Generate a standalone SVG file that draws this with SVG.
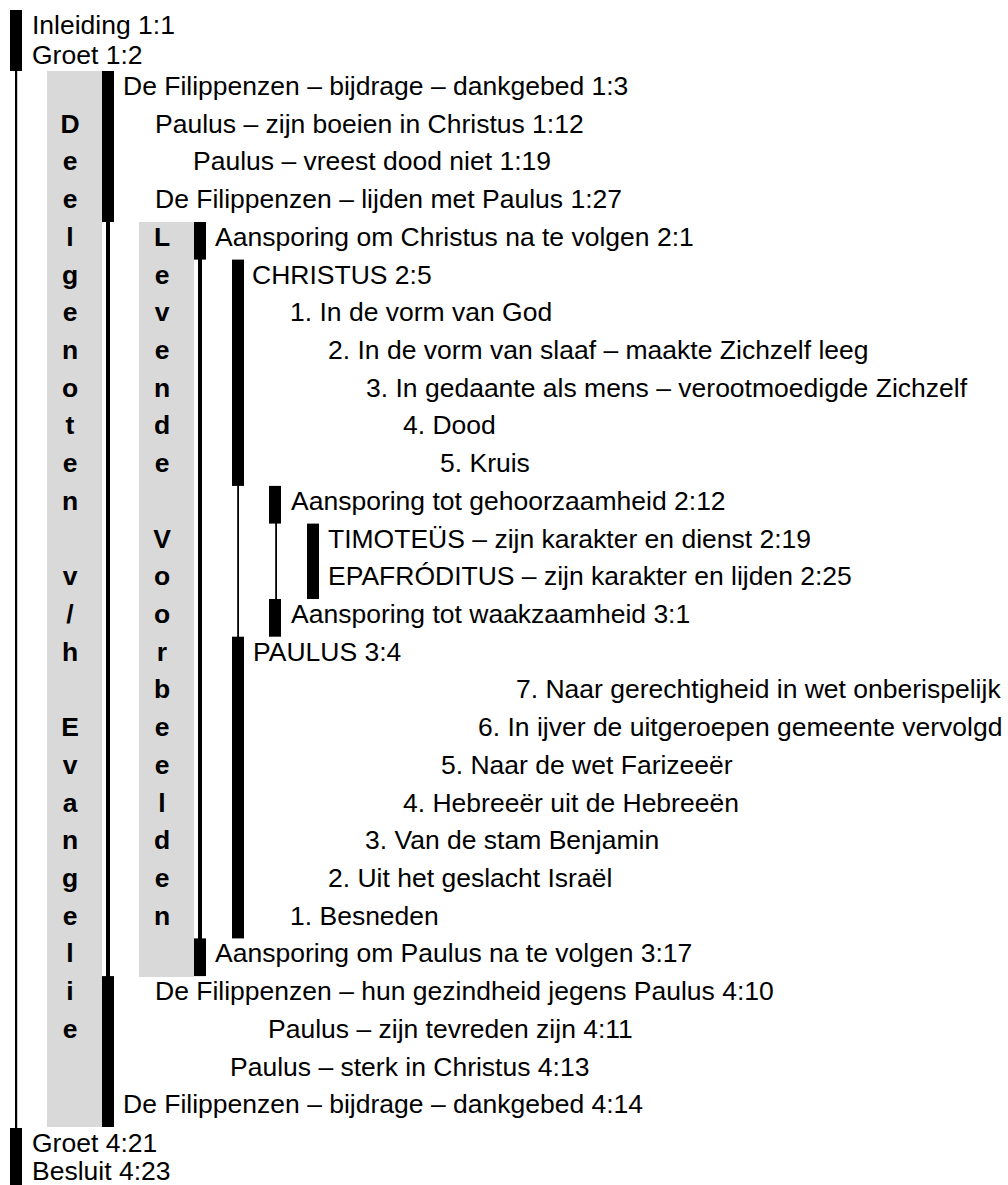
<svg xmlns="http://www.w3.org/2000/svg" width="1008" height="1185" viewBox="0 0 1008 1185">
<style>
text{font-family:"Liberation Sans",Arial,sans-serif;font-size:26.5px;fill:#000}
.b{font-weight:bold;text-anchor:middle}
.bar{fill:#000}
.gray{fill:#d9d9d9}
</style>
<rect width="1008" height="1185" fill="#fff"/>
<g id="columns">
<rect class="gray" x="47" y="71" width="55" height="1056"/>
<rect class="gray" x="139" y="222" width="55" height="755"/>
</g>
<g id="connectors">
<rect class="bar" x="15" y="70" width="2.2" height="1060"/>
<rect class="bar" x="106" y="221" width="4" height="757"/>
<rect class="bar" x="198" y="258" width="4" height="683"/>
<rect class="bar" x="237.2" y="485" width="1.8" height="153"/>
<rect class="bar" x="275.2" y="522" width="1.8" height="78"/>
</g>
<g id="bars">
<rect class="bar" x="10" y="10" width="12" height="61"/>
<rect class="bar" x="102" y="71" width="12" height="151"/>
<rect class="bar" x="194" y="222" width="12" height="37.6"/>
<rect class="bar" x="232" y="259.6" width="12" height="226.3"/>
<rect class="bar" x="269" y="485.9" width="12" height="37.7"/>
<rect class="bar" x="307" y="523.6" width="12" height="75.4"/>
<rect class="bar" x="269" y="599" width="12" height="37.7"/>
<rect class="bar" x="232" y="636.7" width="12" height="301.7"/>
<rect class="bar" x="194" y="938.4" width="12" height="37.7"/>
<rect class="bar" x="102" y="976.1" width="12" height="150.9"/>
<rect class="bar" x="10" y="1128" width="12" height="57"/>
</g>
<g id="col1-label">
<text class="b" x="70" y="132.7">D</text>
<text class="b" x="70" y="170.4">e</text>
<text class="b" x="70" y="208.1">e</text>
<text class="b" x="70" y="245.9">l</text>
<text class="b" x="70" y="283.6">g</text>
<text class="b" x="70" y="321.3">e</text>
<text class="b" x="70" y="359">n</text>
<text class="b" x="70" y="396.7">o</text>
<text class="b" x="70" y="434.4">t</text>
<text class="b" x="70" y="472.1">e</text>
<text class="b" x="70" y="509.9">n</text>
<text class="b" x="70" y="585.3">v</text>
<text class="b" x="70" y="623">/</text>
<text class="b" x="70" y="660.7">h</text>
<text class="b" x="70" y="736.1">E</text>
<text class="b" x="70" y="773.9">v</text>
<text class="b" x="70" y="811.6">a</text>
<text class="b" x="70" y="849.3">n</text>
<text class="b" x="70" y="887">g</text>
<text class="b" x="70" y="924.7">e</text>
<text class="b" x="70" y="962.4">l</text>
<text class="b" x="70" y="1000.1">i</text>
<text class="b" x="70" y="1037.9">e</text>
</g>
<g id="col2-label">
<text class="b" x="162" y="245.9">L</text>
<text class="b" x="162" y="283.6">e</text>
<text class="b" x="162" y="321.3">v</text>
<text class="b" x="162" y="359">e</text>
<text class="b" x="162" y="396.7">n</text>
<text class="b" x="162" y="434.4">d</text>
<text class="b" x="162" y="472.1">e</text>
<text class="b" x="162" y="547.6">V</text>
<text class="b" x="162" y="585.3">o</text>
<text class="b" x="162" y="623">o</text>
<text class="b" x="162" y="660.7">r</text>
<text class="b" x="162" y="698.4">b</text>
<text class="b" x="162" y="736.1">e</text>
<text class="b" x="162" y="773.9">e</text>
<text class="b" x="162" y="811.6">l</text>
<text class="b" x="162" y="849.3">d</text>
<text class="b" x="162" y="887">e</text>
<text class="b" x="162" y="924.7">n</text>
</g>
<g id="items">
<text x="32" y="33.5">Inleiding 1:1</text>
<text x="32" y="64">Groet 1:2</text>
<text x="123" y="95">De Filippenzen – bijdrage – dankgebed 1:3</text>
<text x="155" y="132.7">Paulus – zijn boeien in Christus 1:12</text>
<text x="193" y="170.4">Paulus – vreest dood niet 1:19</text>
<text x="155" y="208.1">De Filippenzen – lijden met Paulus 1:27</text>
<text x="215" y="245.9">Aansporing om Christus na te volgen 2:1</text>
<text x="252" y="283.6">CHRISTUS 2:5</text>
<text x="290" y="321.3">1. In de vorm van God</text>
<text x="328" y="359">2. In de vorm van slaaf – maakte Zichzelf leeg</text>
<text x="366" y="396.7">3. In gedaante als mens – verootmoedigde Zichzelf</text>
<text x="403" y="434.4">4. Dood</text>
<text x="440" y="472.1">5. Kruis</text>
<text x="291" y="509.9">Aansporing tot gehoorzaamheid 2:12</text>
<text x="328" y="547.6">TIMOTEÜS – zijn karakter en dienst 2:19</text>
<text x="328" y="585.3">EPAFRÓDITUS – zijn karakter en lijden 2:25</text>
<text x="291" y="623">Aansporing tot waakzaamheid 3:1</text>
<text x="253" y="660.7">PAULUS 3:4</text>
<text x="516" y="698.4">7. Naar gerechtigheid in wet onberispelijk</text>
<text x="478" y="736.1">6. In ijver de uitgeroepen gemeente vervolgd</text>
<text x="441" y="773.9">5. Naar de wet Farizeeër</text>
<text x="403" y="811.6">4. Hebreeër uit de Hebreeën</text>
<text x="365" y="849.3">3. Van de stam Benjamin</text>
<text x="328" y="887">2. Uit het geslacht Israël</text>
<text x="290" y="924.7">1. Besneden</text>
<text x="215" y="962.4">Aansporing om Paulus na te volgen 3:17</text>
<text x="155" y="1000.1">De Filippenzen – hun gezindheid jegens Paulus 4:10</text>
<text x="268" y="1037.9">Paulus – zijn tevreden zijn 4:11</text>
<text x="230" y="1075.6">Paulus – sterk in Christus 4:13</text>
<text x="123" y="1113.3">De Filippenzen – bijdrage – dankgebed 4:14</text>
<text x="32" y="1151.5">Groet 4:21</text>
<text x="32" y="1180">Besluit 4:23</text>
</g>
</svg>
